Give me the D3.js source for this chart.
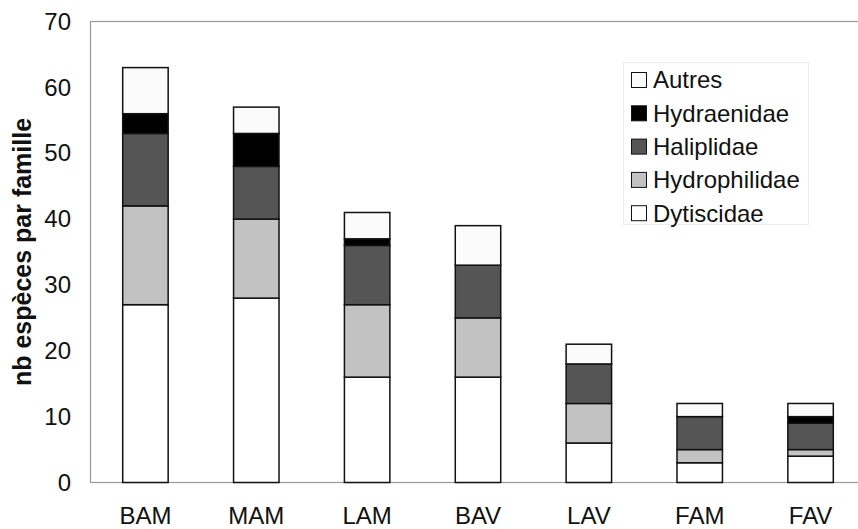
<!DOCTYPE html>
<html>
<head>
<meta charset="utf-8">
<script src="https://cdn.jsdelivr.net/npm/d3@7"></script>
<style>
  html, body { margin: 0; padding: 0; background: #fff; }
  svg { display: block; font-family: "Liberation Sans", Arial, Helvetica, sans-serif; }
</style>
</head>
<body>
<svg id="chart" width="858" height="529"></svg>
<script>
const categories = ["BAM", "MAM", "LAM", "BAV", "LAV", "FAM", "FAV"];
const seriesNames = ["Dytiscidae", "Hydrophilidae", "Haliplidae", "Hydraenidae", "Autres"];
const dytiscidae    = [27, 28, 16, 16, 6, 3, 4];
const hydrophilidae = [15, 12, 11, 9, 6, 2, 1];
const haliplidae    = [11, 8, 9, 8, 6, 5, 4];
const hydraenidae   = [3, 5, 1, 0, 0, 0, 1];
const autres        = [7, 4, 4, 6, 3, 2, 2];
const yTicks = [0, 10, 20, 30, 40, 50, 60, 70];
const yTitle = "nb espèces par famille";

const colors = {
  "Dytiscidae": "#ffffff",
  "Hydrophilidae": "#c2c2c2",
  "Haliplidae": "#555555",
  "Hydraenidae": "#000000",
  "Autres": "#fbfbfb"
};

const seriesValues = {
  "Dytiscidae": dytiscidae,
  "Hydrophilidae": hydrophilidae,
  "Haliplidae": haliplidae,
  "Hydraenidae": hydraenidae,
  "Autres": autres
};

const table = categories.map((c, i) => {
  const row = { cat: c };
  seriesNames.forEach(s => row[s] = seriesValues[s][i]);
  return row;
});

const svg = d3.select("#chart");
const plotLeft = 90, plotRight = 866, plotTop = 21.5, plotBottom = 482.5;

const x = d3.scaleBand().domain(categories).range([plotLeft, plotRight])
  .paddingInner(0.59).paddingOuter(0.295);
const y = d3.scaleLinear().domain([0, 70]).range([plotBottom, plotTop]);

// plot frame
svg.append("rect")
  .attr("x", plotLeft + 0.5).attr("y", plotTop)
  .attr("width", plotRight - plotLeft).attr("height", plotBottom - plotTop)
  .attr("fill", "none").attr("stroke", "#9a9a9a").attr("stroke-width", 1.2);

// stacked bars
const stack = d3.stack().keys(seriesNames)(table);
const layers = svg.append("g").selectAll("g").data(stack).join("g")
  .attr("fill", d => colors[d.key]);
layers.selectAll("rect")
  .data(d => d.filter(p => p[1] - p[0] > 0))
  .join("rect")
  .attr("x", d => x(d.data.cat))
  .attr("y", d => y(d[1]))
  .attr("width", x.bandwidth())
  .attr("height", d => y(d[0]) - y(d[1]))
  .attr("stroke", "#111")
  .attr("stroke-width", 1.5);

// Y axis
const yAxis = svg.append("g")
  .attr("transform", `translate(${plotLeft},0)`)
  .call(d3.axisLeft(y).tickValues(yTicks).tickSize(0).tickPadding(19));
yAxis.select(".domain").remove();
yAxis.selectAll("text")
  .attr("font-size", 24).attr("fill", "#111")
  .attr("font-family", "'Liberation Sans', Arial, sans-serif");

// X axis
const xAxis = svg.append("g")
  .attr("transform", `translate(0,${plotBottom})`)
  .call(d3.axisBottom(x).tickSize(0).tickPadding(24));
xAxis.select(".domain").remove();
xAxis.selectAll("text")
  .attr("font-size", 24).attr("fill", "#111")
  .attr("font-family", "'Liberation Sans', Arial, sans-serif");

// Y title
svg.append("text")
  .attr("transform", "translate(31,252) rotate(-90)")
  .attr("text-anchor", "middle")
  .attr("font-size", 25).attr("font-weight", "bold").attr("fill", "#111")
  .text(yTitle);

// legend
const legendOrder = seriesNames.slice().reverse();
const legend = svg.append("g");
legend.append("rect")
  .attr("x", 623.5).attr("y", 62.5).attr("width", 185).attr("height", 162)
  .attr("fill", "#fff").attr("stroke", "#ececec").attr("stroke-width", 1);
const rowH = 33.3;
const items = legend.selectAll("g.item").data(legendOrder).join("g")
  .attr("class", "item")
  .attr("transform", (d, i) => `translate(631,${80 + i * rowH})`);
items.append("rect")
  .attr("x", 0.5).attr("y", -7.5).attr("width", 15).attr("height", 15)
  .attr("fill", d => colors[d]).attr("stroke", "#111").attr("stroke-width", 1);
items.append("text")
  .attr("x", 22).attr("y", 0).attr("dy", "0.35em")
  .attr("font-size", 24).attr("fill", "#111")
  .text(d => d);
</script>
</body>
</html>
